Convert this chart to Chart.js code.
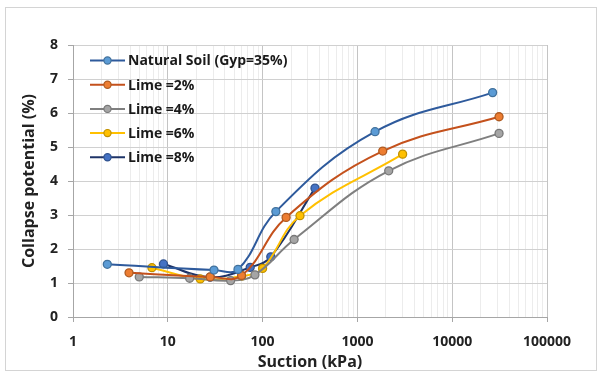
<!DOCTYPE html>
<html>
<head>
<meta charset="utf-8">
<script src="https://cdn.jsdelivr.net/npm/chart.js@4/dist/chart.umd.min.js"></script>
<style>
  html, body { margin: 0; padding: 0; background: #ffffff; }
  #wrap { width: 600px; height: 374px; position: relative; }
</style>
</head>
<body>
<div id="wrap"><canvas id="chart" width="600" height="374"></canvas></div>
<script>
// Collapse potential (%) against suction (kPa), one series per mix
const seriesNames = ['Natural Soil (Gyp=35%)', 'Lime =2%', 'Lime =4%', 'Lime =6%', 'Lime =8%'];

const suctionNatural = [2.3, 30.7, 55, 138, 1535, 26700];
const collapseNatural = [1.55, 1.38, 1.40, 3.10, 5.45, 6.60];

const suctionLime2 = [3.9, 28, 60, 177, 1850, 31200];
const collapseLime2 = [1.30, 1.18, 1.22, 2.93, 4.88, 5.89];

const suctionLime4 = [5.0, 17, 46, 83, 215, 2140, 31200];
const collapseLime4 = [1.18, 1.14, 1.07, 1.24, 2.28, 4.30, 5.40];

const suctionLime6 = [6.8, 22, 60, 100, 248, 3000];
const collapseLime6 = [1.45, 1.12, 1.20, 1.43, 2.98, 4.79];

const suctionLime8 = [9.0, 28, 74, 122, 357];
const collapseLime8 = [1.56, 1.17, 1.46, 1.77, 3.79];

const xTickValues = [1, 10, 100, 1000, 10000, 100000];
const yTickValues = [0, 1, 2, 3, 4, 5, 6, 7, 8];

const lineColors   = ['#2E5A9C', '#C4511C', '#7F7F7F', '#FFC000', '#1F3468'];
const markerFills  = ['#5B9BD5', '#ED7D31', '#A5A5A5', '#FFC000', '#4472C4'];
const markerEdges  = ['#41719C', '#AE5A21', '#787878', '#C09000', '#2F528F'];

const FONT = "'Open Sans', 'Liberation Sans', sans-serif";

function pairs(xs, ys) { return xs.map((x, i) => ({ x: x, y: ys[i] })); }

const seriesData = [
  pairs(suctionNatural, collapseNatural),
  pairs(suctionLime2, collapseLime2),
  pairs(suctionLime4, collapseLime4),
  pairs(suctionLime6, collapseLime6),
  pairs(suctionLime8, collapseLime8)
];

function isDecade(v) {
  const l = Math.log10(v);
  return Math.abs(l - Math.round(l)) < 1e-9;
}

// Full set of log ticks: 1..9 in each decade, labels only on decades
function logTicks() {
  const out = [];
  for (let e = 0; e < 5; e++) {
    for (let d = 1; d <= 9; d++) out.push({ value: d * Math.pow(10, e) });
  }
  out.push({ value: 100000 });
  return out;
}

const frame = {
  id: 'frame',
  beforeDraw(chart) {
    const ctx = chart.ctx;
    ctx.save();
    ctx.fillStyle = '#ffffff';
    ctx.fillRect(0, 0, chart.width, chart.height);
    ctx.strokeStyle = '#d4d4d4';
    ctx.lineWidth = 1;
    ctx.strokeRect(5.5, 7.5, 591, 363);
    ctx.restore();
  }
};

const insetLegend = {
  id: 'insetLegend',
  afterDraw(chart) {
    const ctx = chart.ctx;
    ctx.save();
    ctx.font = 'bold 14px ' + FONT;
    ctx.textBaseline = 'middle';
    ctx.textAlign = 'left';
    seriesNames.forEach((name, i) => {
      const y = 60.5 + i * 24.2;
      ctx.strokeStyle = lineColors[i];
      ctx.lineWidth = 2;
      ctx.beginPath();
      ctx.moveTo(90, y);
      ctx.lineTo(125, y);
      ctx.stroke();
      ctx.beginPath();
      ctx.arc(107.5, y, 3.6, 0, Math.PI * 2);
      ctx.fillStyle = markerFills[i];
      ctx.fill();
      ctx.lineWidth = 1.2;
      ctx.strokeStyle = markerEdges[i];
      ctx.stroke();
      ctx.fillStyle = '#1a1a1a';
      ctx.fillText(name, 128, y + 1);
    });
    ctx.restore();
  }
};

new Chart(document.getElementById('chart'), {
  type: 'line',
  data: {
    datasets: seriesNames.map((name, i) => ({
      label: name,
      data: seriesData[i],
      borderColor: lineColors[i],
      backgroundColor: markerFills[i],
      borderWidth: 2,
      tension: 0.4,
      pointRadius: 4,
      pointBorderWidth: 1.3,
      pointBackgroundColor: markerFills[i],
      pointBorderColor: markerEdges[i],
      fill: false
    }))
  },
  options: {
    responsive: false,
    animation: false,
    devicePixelRatio: 1,
    layout: { padding: { left: 6, top: 45, right: 53, bottom: 0 } },
    plugins: { legend: { display: false }, tooltip: { enabled: false } },
    scales: {
      x: {
        type: 'logarithmic',
        min: 1,
        max: 100000,
        afterBuildTicks(scale) { scale.ticks = logTicks(); },
        afterFit(scale) { scale.height = 57; },
        border: { color: '#a6a6a6', width: 1 },
        grid: {
          color: (c) => (c.tick && isDecade(c.tick.value)) ? '#c4c4c4' : '#ececec',
          tickColor: (c) => (c.tick && isDecade(c.tick.value)) ? '#a6a6a6' : 'rgba(0,0,0,0)',
          tickLength: 5,
          drawTicks: true
        },
        ticks: {
          autoSkip: false,
          maxRotation: 0,
          padding: 12,
          color: '#222222',
          font: { family: FONT, size: 14, weight: 'bold' },
          callback: (v) => xTickValues.includes(v) ? String(v) : ''
        },
        title: {
          display: true,
          text: 'Suction (kPa)',
          color: '#222222',
          font: { family: FONT, size: 16, weight: 'bold' },
          padding: { top: 0, bottom: 2 }
        }
      },
      y: {
        min: 0,
        max: 8,
        afterBuildTicks(scale) { scale.ticks = yTickValues.map(v => ({ value: v })); },
        afterFit(scale) { scale.width = 67; },
        border: { color: '#a6a6a6', width: 1 },
        grid: { color: '#d0d0d0', tickColor: '#a6a6a6', tickLength: 5 },
        ticks: {
          padding: 10,
          color: '#222222',
          font: { family: FONT, size: 14, weight: 'bold' }
        },
        title: {
          display: true,
          text: 'Collapse potential (%)',
          color: '#222222',
          font: { family: FONT, size: 16, weight: 'bold' },
          padding: { top: 14, bottom: 0 }
        }
      }
    }
  },
  plugins: [frame, insetLegend]
});
</script>
</body>
</html>
